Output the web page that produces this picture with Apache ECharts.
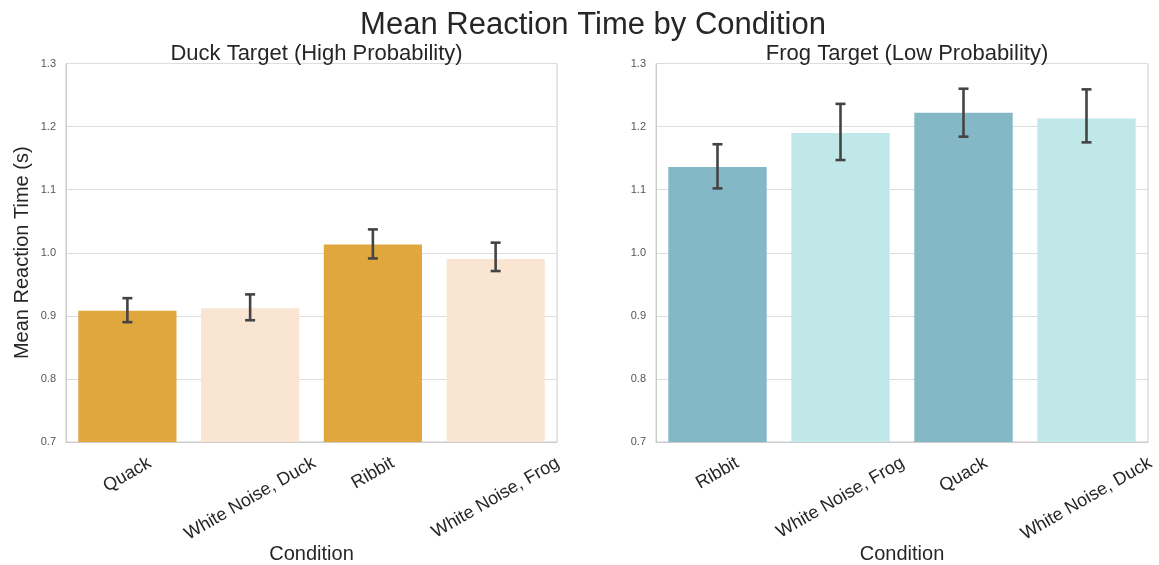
<!DOCTYPE html>
<html><head><meta charset="utf-8">
<script src="https://cdn.jsdelivr.net/npm/echarts@6/dist/echarts.min.js"></script>
<style>html,body{margin:0;padding:0;background:#fff}#c{width:1159px;height:565px}</style>
</head><body><div id="c"></div>
<script>
// ---- data ----
const duckCategories = ['Quack', 'White Noise, Duck', 'Ribbit', 'White Noise, Frog'];
const duckMeans = [0.908, 0.912, 1.013, 0.990];
const duckLow   = [0.890, 0.893, 0.991, 0.971];
const duckHigh  = [0.928, 0.934, 1.037, 1.016];

const frogCategories = ['Ribbit', 'White Noise, Frog', 'Quack', 'White Noise, Duck'];
const frogMeans = [1.136, 1.190, 1.222, 1.213];
const frogLow   = [1.102, 1.147, 1.184, 1.175];
const frogHigh  = [1.172, 1.236, 1.260, 1.259];

const yMin = 0.7, yMax = 1.3, yStep = 0.1;

// ---- styles ----
const FONT = '"Liberation Sans", Arial, sans-serif';
const duckColors = ['#E0A73E', '#F9E5D1', '#E0A73E', '#F9E5D1'];
const frogColors = ['#85B8C7', '#C0E8E9', '#85B8C7', '#C0E8E9'];
const LABEL_SIZE = 18;

const mctx = document.createElement('canvas').getContext('2d');
mctx.font = LABEL_SIZE + 'px ' + FONT;

function errRender(params, api) {
  const x = api.value(0);
  const pLo = api.coord([x, api.value(1)]);
  const pHi = api.coord([x, api.value(2)]);
  const cap = 5;
  const style = { stroke: '#444444', lineWidth: 2.6 };
  return { type: 'group', children: [
    { type: 'line', shape: { x1: pLo[0], y1: pLo[1], x2: pHi[0], y2: pHi[1] }, style },
    { type: 'line', shape: { x1: pLo[0] - cap, y1: pLo[1], x2: pLo[0] + cap, y2: pLo[1] }, style },
    { type: 'line', shape: { x1: pHi[0] - cap, y1: pHi[1], x2: pHi[0] + cap, y2: pHi[1] }, style }
  ]};
}

// category tick labels rotated 30deg, rotated bbox top-centred under the tick (matplotlib style)
function labelRender(cats) {
  return function (params, api) {
    const p = api.coord([api.value(0), yMin]);
    const name = cats[params.dataIndex];
    const w = mctx.measureText(name).width;
    const h = LABEL_SIZE;
    const cy = p[1] + 12 + (w * 0.5 + h * 0.866) / 2;
    return { type: 'text', x: p[0], y: cy, rotation: Math.PI / 6,
      style: { text: name, fontSize: LABEL_SIZE, fontFamily: FONT, fill: '#262626',
        align: 'center', verticalAlign: 'middle' } };
  };
}

function xAxisFor(idx, cats) {
  return {
    type: 'category', gridIndex: idx, data: cats,
    name: 'Condition', nameLocation: 'middle', nameGap: 102,
    nameTextStyle: { fontSize: 20, color: '#262626', fontFamily: FONT },
    axisLine: { show: true, lineStyle: { color: '#cccccc', width: 1 } },
    axisTick: { show: false },
    splitLine: { show: false },
    axisLabel: { show: false }
  };
}
function yAxisFor(idx, withName) {
  const ax = {
    type: 'value', gridIndex: idx, min: yMin, max: yMax, interval: yStep,
    axisLine: { show: true, lineStyle: { color: '#cccccc', width: 1 } },
    axisTick: { show: false },
    splitLine: { show: true, lineStyle: { color: '#dddddd', width: 1 } },
    axisLabel: { fontSize: 11, color: '#555555', fontFamily: FONT, margin: 10,
      formatter: v => v.toFixed(1) }
  };
  if (withName) {
    Object.assign(ax, { name: 'Mean Reaction Time (s)', nameLocation: 'middle', nameGap: 34,
      nameTextStyle: { fontSize: 20, color: '#262626', fontFamily: FONT } });
  }
  return ax;
}

const chart = echarts.init(document.getElementById('c'));
chart.setOption({
  backgroundColor: '#ffffff',
  animation: false,
  title: [
    { text: 'Mean Reaction Time by Condition', left: 588, top: 5, textAlign: 'center',
      textStyle: { fontSize: 31, fontWeight: 'normal', color: '#262626', fontFamily: FONT } },
    { text: 'Duck Target (High Probability)', left: 311.5, top: 38, textAlign: 'center',
      textStyle: { fontSize: 22, fontWeight: 'normal', color: '#262626', fontFamily: FONT } },
    { text: 'Frog Target (Low Probability)', left: 902, top: 38, textAlign: 'center',
      textStyle: { fontSize: 22, fontWeight: 'normal', color: '#262626', fontFamily: FONT } }
  ],
  grid: [
    { left: 66, right: 602, top: 63.5, bottom: 123, show: true, borderColor: '#cccccc', borderWidth: 1,
      outerBoundsMode: 'none', containLabel: false },
    { left: 656, right: 11, top: 63.5, bottom: 123, show: true, borderColor: '#cccccc', borderWidth: 1,
      outerBoundsMode: 'none', containLabel: false }
  ],
  xAxis: [xAxisFor(0, duckCategories), xAxisFor(1, frogCategories)],
  yAxis: [yAxisFor(0, true), yAxisFor(1, false)],
  series: [
    { type: 'bar', xAxisIndex: 0, yAxisIndex: 0, barWidth: '80%',
      data: duckMeans.map((v, i) => ({ value: v, itemStyle: { color: duckColors[i] } })) },
    { type: 'bar', xAxisIndex: 1, yAxisIndex: 1, barWidth: '80%',
      data: frogMeans.map((v, i) => ({ value: v, itemStyle: { color: frogColors[i] } })) },
    { type: 'custom', xAxisIndex: 0, yAxisIndex: 0, renderItem: errRender, z: 5,
      encode: { x: 0, y: [1, 2] },
      data: duckCategories.map((c, i) => [i, duckLow[i], duckHigh[i]]) },
    { type: 'custom', xAxisIndex: 1, yAxisIndex: 1, renderItem: errRender, z: 5,
      encode: { x: 0, y: [1, 2] },
      data: frogCategories.map((c, i) => [i, frogLow[i], frogHigh[i]]) },
    { type: 'custom', xAxisIndex: 0, yAxisIndex: 0, renderItem: labelRender(duckCategories),
      clip: false, silent: true, encode: { x: 0, y: 1 },
      data: duckCategories.map((c, i) => [i, yMin]) },
    { type: 'custom', xAxisIndex: 1, yAxisIndex: 1, renderItem: labelRender(frogCategories),
      clip: false, silent: true, encode: { x: 0, y: 1 },
      data: frogCategories.map((c, i) => [i, yMin]) }
  ]
});
</script>
</body></html>
